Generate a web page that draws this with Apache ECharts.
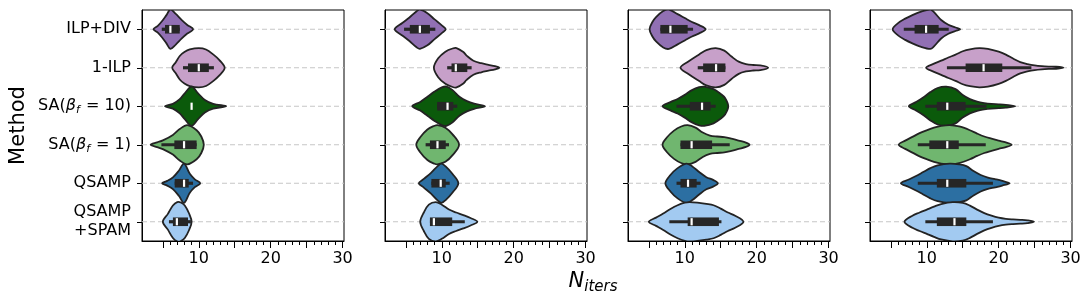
<!DOCTYPE html>
<html>
<head>
<meta charset="utf-8">
<script src="https://cdn.jsdelivr.net/npm/echarts@6/dist/echarts.min.js"></script>
<style>html,body{margin:0;padding:0;background:#fff}#c{width:1090px;height:305px}</style>
</head>
<body>
<div id="c"></div>
<script>
// ---------- data ----------
const categories = ['ILP+DIV', '1-ILP', 'SA(β_f = 10)', 'SA(β_f = 1)', 'QSAMP', 'QSAMP\n+SPAM'];
const xMajorTicks = [5, 10, 15, 20, 25, 30];
const xTickLabels = [10, 20, 30];
const xMinorTicks = [5, 6, 7, 8, 9, 10, 11, 12, 13, 14, 15, 16, 17, 18, 19, 20, 21, 22, 23, 24, 25, 26, 27, 28, 29, 30];

// box stats per violin: [whisker low, q1, median, q3, whisker high]
const boxP1 = [[4.85, 5.3, 6.05, 7.35, 7.35], [7.8, 8.5, 10.0, 11.4, 12.1], [9, 9, 9, 9, 9], [4.8, 6.6, 7.95, 9.7, 9.7], [6.65, 6.65, 7.95, 8.6, 9.2], [5.85, 6.4, 6.95, 8.5, 8.9]];
const boxP2 = [[4.75, 5.55, 6.95, 8.35, 9.1], [10.75, 11.35, 11.95, 13.55, 14.15], [9.35, 9.35, 10.8, 11.6, 12.15], [7.75, 8.35, 9.4, 10.55, 11.0], [8.55, 8.55, 9.85, 10.55, 11.1], [8.35, 8.35, 8.9, 11.45, 13.2]];
const boxP3 = [[6.6, 6.6, 8.0, 10.4, 11.15], [11.8, 12.55, 14.35, 15.65, 15.65], [8.85, 10.7, 12.4, 13.6, 14.3], [9.4, 9.4, 10.95, 13.8, 16.25], [8.85, 9.4, 10.45, 11.65, 12.2], [7.85, 10.4, 10.95, 14.75, 15.1]];
const boxP4 = [[6.8, 8.3, 9.9, 11.65, 13.05], [12.8, 15.4, 17.9, 20.5, 24.55], [9.8, 11.4, 12.85, 15.4, 18.3], [8.75, 10.35, 12.85, 14.45, 18.2], [8.75, 11.4, 12.85, 15.5, 19.2], [9.8, 11.4, 13.85, 15.5, 19.2]];

// density profile per violin: [N_iters, relative half-width]
const densP1 = [
  [[3.7,0],[4.3,0.17],[4.9,0.42],[5.5,0.72],[6.05,1.0],[6.8,0.78],[7.6,0.48],[8.4,0.22],[9.2,0]],
  [[6.3,0],[6.8,0.28],[7.35,0.6],[8.0,0.8],[8.75,0.93],[10.0,1.0],[11.0,0.93],[12.0,0.68],[12.9,0.38],[13.6,0]],
  [[5.3,0],[6.4,0.12],[7.35,0.36],[8.05,0.66],[9.0,1.0],[9.9,0.66],[10.85,0.32],[12.0,0.12],[13.8,0]],
  [[3.3,0],[4.2,0.12],[5.0,0.22],[6.4,0.5],[7.35,0.8],[8.4,1.0],[9.7,0.74],[10.35,0.42],[10.7,0]],
  [[4.9,0],[5.6,0.12],[6.4,0.3],[7.25,0.65],[7.95,1.0],[8.75,0.48],[9.45,0.2],[10.2,0]],
  [[5.0,0],[5.7,0.4],[6.4,0.83],[7.0,1.0],[7.5,0.98],[8.05,0.83],[8.65,0.42],[9.0,0]]
];
const densP2 = [
  [[3.45,0],[4.5,0.32],[5.5,0.6],[6.5,0.92],[6.95,1.0],[8.0,0.82],[9.0,0.5],[10.0,0.2],[10.55,0]],
  [[8.9,0],[9.5,0.48],[10.5,0.82],[11.5,0.98],[12.05,1.0],[13.0,0.8],[13.45,0.62],[14.4,0.36],[15.5,0.23],[16.5,0.15],[17.4,0.08],[18.0,0]],
  [[5.9,0],[7.0,0.22],[8.0,0.48],[9.0,0.75],[10.0,0.96],[10.65,1.0],[11.5,0.82],[12.5,0.47],[13.5,0.26],[14.5,0.13],[16.0,0]],
  [[6.45,0],[7.0,0.38],[8.0,0.78],[9.0,0.97],[9.4,1.0],[10.5,0.87],[11.5,0.53],[12.4,0]],
  [[6.8,0],[7.5,0.22],[8.5,0.53],[9.5,0.9],[9.95,1.0],[10.5,0.87],[11.5,0.47],[12.3,0]],
  [[7.0,0],[7.5,0.47],[8.2,0.87],[9.15,1.0],[10.0,0.87],[11.0,0.62],[12.0,0.47],[13.0,0.34],[14.0,0.19],[14.95,0]]
];
const densP3 = [
  [[5.1,0],[5.5,0.37],[6.0,0.62],[7.0,0.93],[7.8,1.0],[9.0,0.77],[10.0,0.57],[11.0,0.37],[12.0,0.21],[12.9,0]],
  [[9.4,0],[10.5,0.32],[12.0,0.68],[13.0,0.9],[14.3,1.0],[15.5,0.87],[16.5,0.57],[17.5,0.31],[18.5,0.19],[19.5,0.14],[20.5,0.12],[21.6,0]],
  [[6.9,0],[8.0,0.21],[9.0,0.37],[10.0,0.58],[11.0,0.82],[12.0,0.97],[12.7,1.0],[14.0,0.87],[15.0,0.63],[15.6,0.42],[16.05,0]],
  [[6.9,0],[7.5,0.37],[8.5,0.72],[9.5,0.93],[10.4,1.0],[11.5,0.87],[12.5,0.62],[13.5,0.47],[14.5,0.42],[15.5,0.39],[16.5,0.31],[17.5,0.21],[18.5,0.11],[19.0,0]],
  [[7.3,0],[8.0,0.42],[9.0,0.77],[10.2,1.0],[11.0,0.87],[12.0,0.57],[13.0,0.31],[14.0,0.16],[14.6,0]],
  [[5.0,0],[6.0,0.21],[7.0,0.42],[8.0,0.65],[9.0,0.84],[10.0,0.97],[10.7,1.0],[12.0,0.96],[13.0,0.91],[14.0,0.84],[15.0,0.67],[16.0,0.47],[17.0,0.31],[18.15,0]]
];
const densP4 = [
  [[5.25,0],[6.0,0.31],[7.0,0.54],[8.0,0.72],[9.0,0.87],[10.5,1.0],[11.0,0.87],[12.0,0.47],[13.0,0.23],[14.0,0.09],[14.65,0]],
  [[9.9,0],[11,0.21],[12,0.36],[13,0.52],[14,0.67],[15,0.84],[16,0.94],[17.3,1.0],[18.5,0.96],[20,0.82],[21,0.67],[22,0.47],[23,0.29],[24,0.19],[25,0.12],[26,0.08],[27,0.06],[28,0.05],[29,0]],
  [[7.5,0],[8.5,0.21],[9.5,0.44],[10.5,0.72],[11.5,0.93],[12.7,1.0],[14,0.87],[15,0.57],[16,0.36],[17,0.23],[18,0.16],[19,0.12],[20,0.1],[21,0.07],[22.3,0]],
  [[6.1,0],[7,0.21],[8,0.4],[9,0.59],[10,0.74],[11,0.87],[12,0.96],[13.2,1.0],[14.5,0.93],[16,0.74],[17,0.57],[18,0.42],[19,0.31],[20,0.21],[21,0.12],[21.8,0]],
  [[6.4,0],[7.5,0.19],[8.5,0.37],[9.5,0.57],[10.5,0.77],[11.5,0.91],[13.2,1.0],[14.5,0.96],[15.5,0.87],[16.5,0.62],[17.5,0.42],[18.5,0.29],[19.5,0.21],[20.5,0.12],[21.5,0]],
  [[6.9,0],[8,0.31],[9,0.47],[10,0.62],[11,0.77],[12,0.9],[13.6,1.0],[15,0.96],[16,0.82],[17,0.62],[18,0.44],[19,0.31],[20,0.21],[21,0.15],[22,0.12],[23,0.1],[24,0.07],[24.9,0]]
];

// ---------- styles ----------
const palette = ['#9170b3', '#c7a0c9', '#0b5a0b', '#70b66f', '#2c6fa2', '#a2caf1'];
const FONT = 'DejaVu Sans';
const panels = [
  { box: boxP1, dens: densP1, left: 142 },
  { box: boxP2, dens: densP2, left: 385 },
  { box: boxP3, dens: densP3, left: 628 },
  { box: boxP4, dens: densP4, left: 870 }
];

function yLabelFormatter(v) {
  const m = v.match(/^SA\(β_f = (\d+)\)$/);
  if (m) return '{n|SA(}{g|β}{s|f}{n| = ' + m[1] + ')}';
  return v;
}

const grids = [], xAxes = [], yAxes = [], series = [];
panels.forEach((p, k) => {
  grids.push({ left: p.left, top: 10, width: 202, height: 231, show: true, borderColor: '#000', borderWidth: 1, backgroundColor: 'transparent' });
  xAxes.push({
    type: 'value', gridIndex: k, min: 2.1, max: 30.2, position: 'bottom',
    axisLine: { show: true, onZero: false, lineStyle: { color: '#000', width: 1 } },
    axisTick: { show: true, customValues: xMajorTicks, length: 7, lineStyle: { color: '#000', width: 1 } },
    axisLabel: { show: true, customValues: xTickLabels, margin: 10, fontSize: 16, color: '#000', fontFamily: FONT },
    splitLine: { show: false }
  });
  xAxes.push({
    type: 'value', gridIndex: k, min: 2.1, max: 30.2, position: 'bottom',
    axisLine: { show: false, onZero: false },
    axisTick: { show: true, customValues: xMinorTicks, length: 4, lineStyle: { color: '#000', width: 1 } },
    axisLabel: { show: false },
    splitLine: { show: false }
  });
  yAxes.push({
    type: 'category', gridIndex: k, data: categories, inverse: true,
    axisLine: { show: true, lineStyle: { color: '#000', width: 1 } },
    axisTick: { show: true, alignWithLabel: true, length: 5, lineStyle: { color: '#000', width: 1 } },
    axisLabel: k === 0 ? {
      show: true, margin: 11, fontSize: 16, color: '#000', fontFamily: FONT, lineHeight: 19,
      formatter: yLabelFormatter,
      rich: {
        n: { fontSize: 16, color: '#000', fontFamily: FONT },
        g: { fontSize: 16, color: '#000', fontFamily: FONT, fontStyle: 'italic' },
        s: { fontSize: 11, color: '#000', fontFamily: FONT, fontStyle: 'italic', padding: [8, 1, 0, 0] }
      }
    } : { show: false },
    name: k === 0 ? 'Method' : '',
    nameLocation: 'middle', nameGap: 113,
    nameTextStyle: { fontSize: 21, color: '#000', fontFamily: FONT },
    splitLine: { show: false }
  });
  series.push({
    type: 'custom', xAxisIndex: 2 * k, yAxisIndex: k, clip: true,
    data: categories.map((c, i) => [i]),
    renderItem: function (params, api) {
      const i = api.value(0);
      const cs = params.coordSys;
      const cy = api.coord([10, i])[1];
      const half = api.size([0, 1])[1] * 0.51;
      const d = p.dens[i];
      const up = d.map(q => [api.coord([q[0], i])[0], cy - q[1] * half]);
      const lo = d.slice(1, -1).reverse().map(q => [api.coord([q[0], i])[0], cy + q[1] * half]);
      const b = p.box[i];
      const X = v => api.coord([v, i])[0];
      const children = [
        { type: 'line', shape: { x1: cs.x, y1: cy, x2: cs.x + cs.width, y2: cy },
          style: { stroke: '#c6c6c6', lineWidth: 1, lineDash: [5, 3] } },
        { type: 'polygon', shape: { points: up.concat(lo), smooth: 0.35 },
          style: { fill: palette[i], stroke: '#232323', lineWidth: 1.8 } }
      ];
      if (b[4] > b[0]) children.push({ type: 'rect', shape: { x: X(b[0]), y: cy - 1.6, width: X(b[4]) - X(b[0]), height: 3.2 }, style: { fill: '#262626' } });
      if (b[3] > b[1]) children.push({ type: 'rect', shape: { x: X(b[1]), y: cy - 4.3, width: X(b[3]) - X(b[1]), height: 8.6 }, style: { fill: '#262626' } });
      children.push({ type: 'rect', shape: { x: X(b[2]) - 1.1, y: cy - 3.6, width: 2.2, height: 7.2 }, style: { fill: '#ffffff' } });
      return { type: 'group', children: children };
    }
  });
});

const chart = echarts.init(document.getElementById('c'), null, { renderer: 'canvas' });
chart.setOption({
  animation: false,
  backgroundColor: '#fff',
  grid: grids, xAxis: xAxes, yAxis: yAxes, series: series,
  graphic: [{
    type: 'text', x: 593, y: 282,
    style: {
      text: '{N|N}{s|iters}', align: 'center', verticalAlign: 'middle',
      rich: {
        N: { fontSize: 21, fontStyle: 'italic', fontFamily: FONT, color: '#000' },
        s: { fontSize: 15, fontStyle: 'italic', fontFamily: FONT, color: '#000', padding: [10, 0, 0, 0] }
      }
    }
  }]
});
</script>
</body>
</html>
